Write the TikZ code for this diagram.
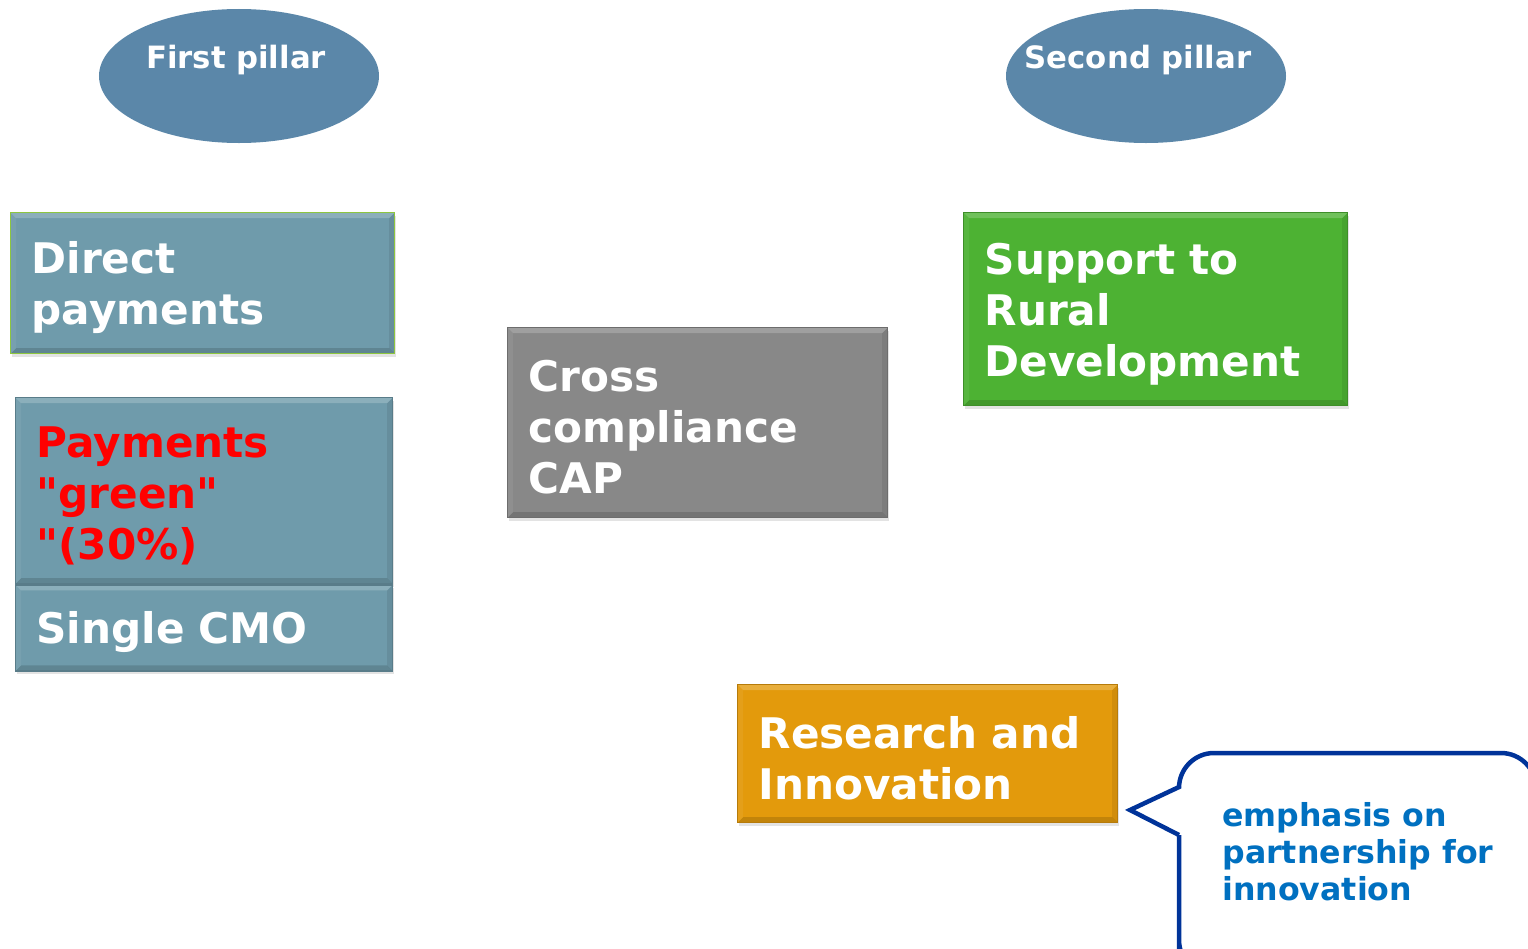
\documentclass[tikz,border=0pt]{standalone}
\usepackage{fontspec}
\setmainfont{DejaVu Sans}
\usetikzlibrary{positioning,shapes.geometric,shadows}

\definecolor{pillarblue}{HTML}{5B87A9}
\definecolor{slabblue}{HTML}{6F9BAB}
\definecolor{slabgray}{HTML}{888888}
\definecolor{slabgreen}{HTML}{4DB233}
\definecolor{slaborange}{HTML}{E39A0C}
\definecolor{limeline}{HTML}{8DC63F}
\definecolor{callblue}{HTML}{003399}
\definecolor{calltext}{HTML}{0070C0}

\newcommand\slabfont{\fontsize{24}{29}\selectfont\bfseries}
\newcommand\pillarfont{\fontsize{17.5}{20}\selectfont\bfseries}
\newcommand\bubblefont{\fontsize{18}{21}\selectfont\bfseries}

\tikzset{
  bevel/.style={path picture={
      \fill[white,opacity=.2] (path picture bounding box.north west) -- (path picture bounding box.north east)
        -- ([xshift=-1.1mm,yshift=-1.1mm]path picture bounding box.north east)
        -- ([xshift=1.1mm,yshift=-1.1mm]path picture bounding box.north west) -- cycle;
      \fill[black,opacity=.14] (path picture bounding box.south west) -- (path picture bounding box.south east)
        -- ([xshift=-1.1mm,yshift=1.1mm]path picture bounding box.south east)
        -- ([xshift=1.1mm,yshift=1.1mm]path picture bounding box.south west) -- cycle;
      \fill[black,opacity=.08] (path picture bounding box.north east) -- (path picture bounding box.south east)
        -- ([xshift=-1.1mm,yshift=1.1mm]path picture bounding box.south east)
        -- ([xshift=-1.1mm,yshift=-1.1mm]path picture bounding box.north east) -- cycle;
      \fill[white,opacity=.06] (path picture bounding box.north west) -- (path picture bounding box.south west)
        -- ([xshift=1.1mm,yshift=1.1mm]path picture bounding box.south west)
        -- ([xshift=1.1mm,yshift=-1.1mm]path picture bounding box.north west) -- cycle;
    }},
  slab/.style={rectangle, fill=#1, draw=#1!80!black, line width=0.25mm, inner xsep=4.2mm, inner ysep=0pt,
    align=left, text=white, font=\slabfont, anchor=north west, bevel,
    execute at begin node={\rule{0pt}{8.2mm}},
    drop shadow={shadow xshift=0.2mm, shadow yshift=-0.7mm, opacity=.22}},
  pillar/.style={ellipse, fill=pillarblue, minimum width=56mm, minimum height=26.8mm, inner sep=0pt},
  pillartext/.style={text=white, font=\pillarfont, inner sep=0pt},
  bubble/.style={draw=callblue, line width=0.9mm, line join=miter, fill=white},
}

\begin{document}
\begin{tikzpicture}[x=0.2mm,y=-0.2mm]
  \useasboundingbox (0,0) rectangle (1528,948);

  % the two pillars
  \node (pillar1) [pillar] at (239,76) {};
  \node (pillar1 text) [pillartext] at ([xshift=-0.6mm,yshift=3.2mm]pillar1.center) {First pillar};
  \node (pillar2) [pillar] at (1146,76) {};
  \node (pillar2 text) [pillartext] at ([xshift=-1.6mm,yshift=3.2mm]pillar2.center) {Second pillar};

  % first pillar boxes
  \node (direct) [slab=slabblue, draw=limeline, text width=68.4mm, minimum height=28.2mm] at (10,212) {Direct\\payments};
  \node (greenpay) [slab=slabblue, text width=67mm, minimum height=37.2mm] at (15,397)
    {\textcolor{red}{Payments}\\\textcolor{red}{\textquotedbl green\textquotedbl}\\\textcolor{red}{\textquotedbl(30\%)}};
  \node (cmo) [slab=slabblue, text width=67mm, minimum height=17.2mm, below=0pt of greenpay] {Single CMO};

  % middle and second pillar
  \node (cross) [slab=slabgray, text width=67.6mm, minimum height=38mm] at (507,327) {Cross\\compliance\\CAP};
  \node (rural) [slab=slabgreen, text width=68.4mm, minimum height=38.6mm] at (963,212) {Support to\\Rural\\Development};
  \node (research) [slab=slaborange, text width=67.6mm, minimum height=27.6mm] at (737,684) {Research and\\Innovation};

  % speech bubble
  \coordinate (tip) at (1130,810);
  \draw[bubble] (1179,835) -- (tip) -- (1179,787) -- (1179,786) [rounded corners=7mm] -- (1179,753)
    -- (1536,753) -- (1536,975) -- (1179,975) -- (1179,950) [sharp corners] -- (1179,835);
  \node (emphasis) [anchor=west, align=left, inner sep=0pt, text=calltext, font=\bubblefont] at (1222,852)
    {emphasis on\\partnership for\\innovation};
\end{tikzpicture}
\end{document}
